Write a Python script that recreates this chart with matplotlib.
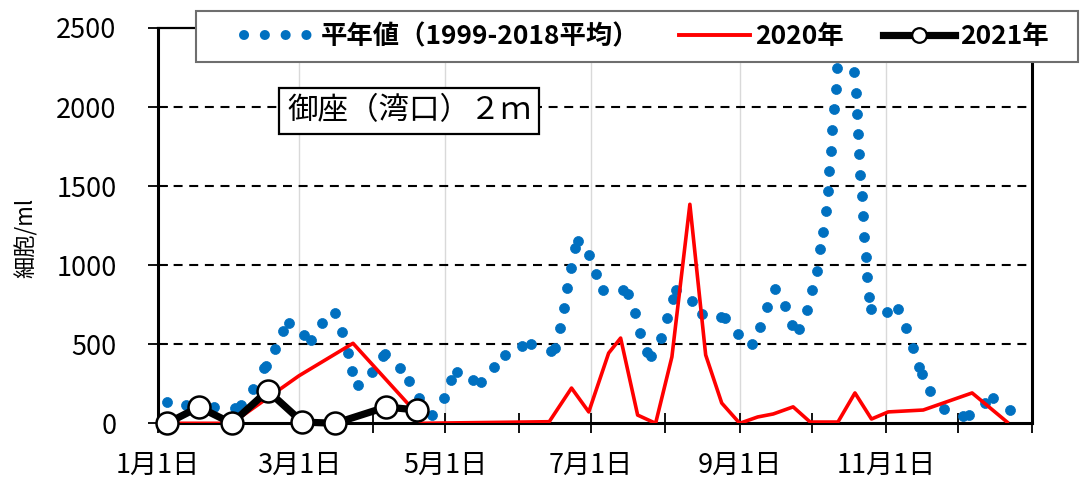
import matplotlib
matplotlib.use('Agg')
import matplotlib.pyplot as plt
from matplotlib.lines import Line2D
from matplotlib.patches import Rectangle

# ---------------- data ----------------
avg_day = [3.9, 11.8, 23.5, 32.3, 34.8, 39.8, 44.4, 45.3, 49, 52.4, 54.9, 61.2, 64, 68.7,
           74.1, 77, 79.6, 81.2, 83.7, 89.6, 94.2, 95.1, 101.3, 105.1, 109.2, 114.7, 119.7,
           122.6, 125.1, 131.8, 135.1, 140.6, 145.2, 152.3, 156, 164.3, 166, 168, 169.5,
           171, 172.7, 174.4, 175.6, 180.2, 183.1, 185.8, 194.1, 196.2, 199.2, 201.2,
           204.1, 205.8, 210, 212.5, 215, 216.3, 223, 227.2, 235.1, 236.8, 242.2, 248,
           251.5, 254.3, 257.7, 261.9, 264.8, 267.7, 271, 273.1, 275.2, 276.6, 277.7,
           279, 279.8, 280.3, 281.1, 281.6, 282.4, 283.2, 283.6, 290.7, 291.6, 292,
           292.3, 292.8, 293.2, 294, 294.5, 294.9, 295.8, 296.2, 297, 297.9, 304.6,
           308.9, 312.3, 315.2, 317.7, 318.9, 322.6, 328.4, 336.3, 338.8, 345.5, 348.8, 356]
avg_val = [135, 116, 103, 97, 116, 218, 350, 363, 470, 584, 635, 559, 527, 635,
           698, 578, 445, 331, 242, 325, 426, 439, 350, 268, 160, 52, 160,
           274, 325, 274, 261, 356, 432, 489, 502, 457, 477, 603, 729,
           856, 983, 1109, 1153, 1065, 945, 844, 844, 818, 698, 571,
           451, 426, 540, 666, 786, 844, 774, 691, 673, 666, 565, 502,
           612, 736, 850, 742, 622, 597, 717, 844, 964, 1103, 1211,
           1344, 1471, 1597, 1724, 1857, 1990, 2117, 2250, 2224, 2091, 1958,
           1831, 1704, 1571, 1438, 1310, 1178, 1051, 924, 798, 722, 703,
           722, 603, 477, 356, 312, 204, 90, 46, 52, 128, 160, 84]

y2020_day = [4, 31, 59, 81.6, 105, 110, 163.5, 172.8, 180, 188.3, 193.3, 200.4, 207.9,
             214.7, 222.2, 228.8, 235.5, 243, 250.5, 257, 265.3, 272.4, 284, 291.1,
             298, 305, 319.6, 340, 354.6]
y2020_val = [0, 0, 300, 506, 116, 0, 10, 223, 72, 444, 539, 52, 0,
             420, 1385, 432, 128, 0, 40, 59, 104, 8, 8, 192,
             27, 72, 84, 192, 8]

y2021_day = [4, 17.3, 31, 46, 60.4, 74.2, 95.4, 108.5]
y2021_val = [0, 103, 0, 206, 8, 0, 103, 84]

month_start = [0, 31, 59, 90, 120, 151, 181, 212, 243, 273, 304, 334, 365]
month_labels = ['1月1日', '', '3月1日', '', '5月1日', '', '7月1日', '', '9月1日', '',
                '11月1日', '', '']
y_ticks = [0, 500, 1000, 1500, 2000, 2500]

series_names = ['平年値（1999-2018平均）', '2020年', '2021年']
title_text = '御座（湾口）２ｍ'
y_label = '細胞/ml'

BLUE = '#0070C0'
RED = '#FF0000'
CJK = ['Noto Sans CJK JP', 'DejaVu Sans']

W, H = 1081, 484

# ---------------- figure ----------------
fig = plt.figure(figsize=(W / 100, H / 100), dpi=100)
ax = fig.add_axes([157.5 / W, 1 - 423.3 / H, (1032 - 157.5) / W, (423.3 - 28) / H])

ax.set_xlim(0, 365)
ax.set_ylim(0, 2500)

# grid
for yv in y_ticks[1:-1]:
    ax.axhline(yv, color='black', lw=1.5, ls=(0, (4.3, 3.2)), zorder=1)
for xv in [59, 120, 181, 243, 304]:
    ax.axvline(xv, color='#D9D9D9', lw=1.0, zorder=0.5)

# series
ax.plot(avg_day, avg_val, ls='none', marker='o', ms=7.2, color=BLUE, mec=BLUE, mew=0.5, zorder=2)
ax.plot(y2020_day, y2020_val, color=RED, lw=2.6, zorder=3)
ax.plot(y2021_day, y2021_val, color='black', lw=5.2, marker='o', ms=15.8,
        mfc='white', mec='black', mew=1.8, zorder=4, clip_on=False)

# axes styling
ax.set_yticks(y_ticks)
ax.set_yticklabels([str(v) for v in y_ticks], family=CJK, fontsize=19.5)
ax.set_xticks(month_start)
ax.set_xticklabels(month_labels, family=CJK, fontsize=19.5)
ax.tick_params(axis='x', direction='inout', length=15, width=1.3, pad=13, colors='black')
ax.tick_params(axis='y', direction='inout', length=15, width=1.3, pad=22, colors='black')
for side in ['left', 'bottom', 'right']:
    ax.spines[side].set_linewidth(2.2)
    ax.spines[side].set_color('black')
ax.spines['top'].set_linewidth(1.6)
ax.spines['top'].set_color('black')

ax.set_ylabel(y_label, family=CJK, fontsize=16)
ax.yaxis.set_label_coords(-0.137, 0.47)

ax.text((409 - 157.5) / (1032 - 157.5), (423.3 - 111) / (423.3 - 28), title_text,
        transform=ax.transAxes, ha='center', va='center',
        family=CJK, fontsize=22,
        bbox=dict(boxstyle='square,pad=0.25', fc='white', ec='black', lw=1.6), zorder=6)

# legend frame (drawn explicitly)
frame = Rectangle((196 / W, 1 - 62 / H), (1078 - 196) / W, (62 - 11) / H,
                  transform=fig.transFigure, fc='white', ec='#6E6E6E', lw=1.5, zorder=9)
fig.patches.append(frame)

h_avg = Line2D([], [], color=BLUE, lw=7.2, ls=(0, (0.01, 2.07)), dash_capstyle='round')
h_20 = Line2D([], [], color=RED, lw=2.8)
h_21 = Line2D([], [], color='black', lw=5.2, marker='o', ms=10.5, mfc='white', mec='black', mew=1.6)
leg = fig.legend([h_avg, h_20, h_21], series_names, loc='center left',
                 bbox_to_anchor=(244 / W, 1 - 36.5 / H),
                 bbox_transform=fig.transFigure, ncol=3,
                 frameon=False, borderaxespad=0, borderpad=0,
                 handlelength=2.7, handletextpad=0.2, columnspacing=1.5,
                 prop={'family': CJK, 'weight': 'bold', 'size': 19})
leg.set_zorder(10)

fig.savefig('out.png', dpi=100)
